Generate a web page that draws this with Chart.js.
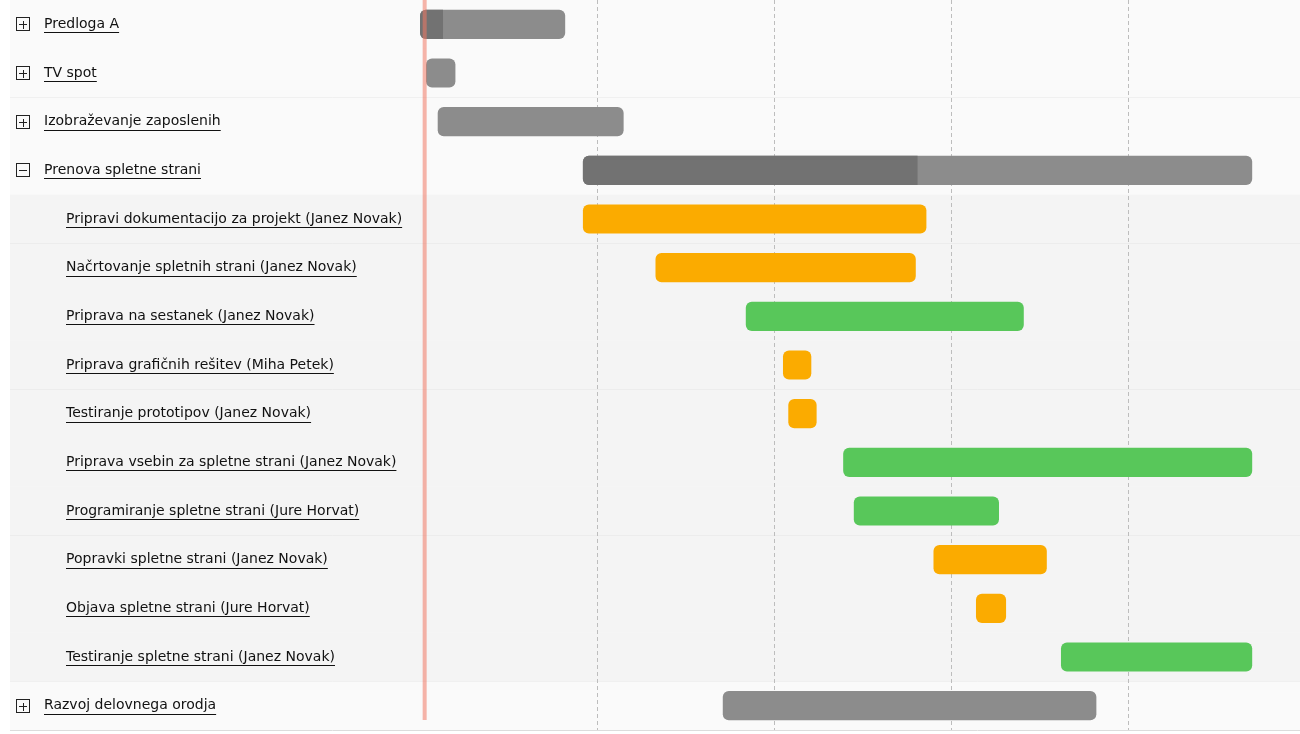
<!DOCTYPE html>
<html>
<head>
<meta charset="utf-8">
<script src="https://cdn.jsdelivr.net/npm/chart.js@4.4.0/dist/chart.umd.min.js"></script>
<style>
  html, body { margin: 0; padding: 0; background: #fff; }
  #wrap { width: 1300px; height: 734px; }
</style>
</head>
<body>
<div id="wrap"><canvas id="gantt"></canvas></div>
<script>
// Gantt podatki
const tasks = [
  'Predloga A', 'TV spot', 'Izobraževanje zaposlenih', 'Prenova spletne strani',
  'Pripravi dokumentacijo za projekt (Janez Novak)', 'Načrtovanje spletnih strani (Janez Novak)',
  'Priprava na sestanek (Janez Novak)', 'Priprava grafičnih rešitev (Miha Petek)',
  'Testiranje prototipov (Janez Novak)', 'Priprava vsebin za spletne strani (Janez Novak)',
  'Programiranje spletne strani (Jure Horvat)', 'Popravki spletne strani (Janez Novak)',
  'Objava spletne strani (Jure Horvat)', 'Testiranje spletne strani (Janez Novak)',
  'Razvoj delovnega orodja'
];
const level = [0, 0, 0, 0, 1, 1, 1, 1, 1, 1, 1, 1, 1, 1, 0];
const expanded = [false, false, false, true, null, null, null, null, null, null, null, null, null, null, false];
const startDay = [0, 0.34, 1.0, 9.2, 9.2, 13.3, 18.4, 20.5, 20.8, 23.9, 24.5, 29.0, 31.4, 36.2, 17.1];
const endDay   = [8.2, 2.0, 11.5, 47.0, 28.6, 28.0, 34.1, 22.1, 22.4, 47.0, 32.7, 35.4, 33.1, 47.0, 38.2];
const progressEnd = [1.3, null, null, 28.1, null, null, null, null, null, null, null, null, null, null, null];
const status = ['group', 'group', 'group', 'group', 'late', 'late', 'ok', 'late', 'late', 'ok', 'ok', 'late', 'late', 'ok', 'group'];
const gridDays = [10, 20, 30, 40];
const today = 0.15;

const colorMap = { group: '#8c8c8c', late: '#fbab00', ok: '#58c75a' };

const labelsPlugin = {
  id: 'ganttLabels',
  beforeDatasetsDraw(chart) {
    const { ctx, scales: { y, x }, chartArea } = chart;
    const rowH = y.height / tasks.length;
    ctx.save();
    tasks.forEach((t, i) => {
      const top = y.top + i * rowH;
      ctx.fillStyle = level[i] ? '#f4f4f4' : '#fafafa';
      ctx.fillRect(10, top, 1290, rowH);
      ctx.strokeStyle = '#dcdcdc'; ctx.lineWidth = 1;
      ctx.beginPath(); ctx.moveTo(10, Math.round(top + rowH) + 0.5); ctx.lineTo(1300, Math.round(top + rowH) + 0.5); ctx.stroke();
    });
    ctx.strokeStyle = '#bdbdbd'; ctx.setLineDash([4, 3]);
    gridDays.forEach(v => {
      const px = Math.round(x.getPixelForValue(v)) + 0.5;
      ctx.beginPath(); ctx.moveTo(px, chartArea.top); ctx.lineTo(px, chartArea.bottom); ctx.stroke();
    });
    ctx.setLineDash([]);
    ctx.font = '14px "DejaVu Sans", Verdana, sans-serif';
    ctx.textBaseline = 'middle';
    tasks.forEach((t, i) => {
      const cy = y.top + (i + 0.5) * rowH;
      const tx = level[i] ? 66 : 44;
      ctx.fillStyle = '#111';
      ctx.fillText(t, tx, cy);
      const w = ctx.measureText(t).width;
      ctx.fillRect(tx, Math.round(cy + 8), w, 1);
      if (expanded[i] !== null) {
        const c = Math.round(cy);
        ctx.strokeStyle = '#222'; ctx.lineWidth = 1;
        ctx.strokeRect(16.5, c - 6.5, 13, 13);
        ctx.beginPath();
        ctx.moveTo(19, c + 0.5); ctx.lineTo(27, c + 0.5);
        if (!expanded[i]) { ctx.moveTo(23.5, c - 3); ctx.lineTo(23.5, c + 5); }
        ctx.stroke();
      }
    });
    ctx.restore();
  },
  afterDatasetsDraw(chart) {
    const { ctx, scales: { x }, chartArea } = chart;
    ctx.save();
    ctx.fillStyle = 'rgba(240,120,100,0.55)';
    ctx.fillRect(x.getPixelForValue(today), chartArea.top, 4, chartArea.bottom - chartArea.top - 10);
    ctx.restore();
  }
};

new Chart(document.getElementById('gantt'), {
  type: 'bar',
  data: {
    labels: tasks,
    datasets: [
      {
        data: progressEnd.map((e, i) => e === null ? null : [startDay[i], e]),
        backgroundColor: '#727272',
        borderRadius: { topLeft: 6, bottomLeft: 6, topRight: 0, bottomRight: 0 },
        borderSkipped: false,
        grouped: false, order: 0,
        barPercentage: 0.6, categoryPercentage: 1
      },
      {
        data: startDay.map((s, i) => [s, endDay[i]]),
        backgroundColor: status.map(s => colorMap[s]),
        borderRadius: 6, borderSkipped: false,
        grouped: false, order: 1,
        barPercentage: 0.6, categoryPercentage: 1
      }
    ]
  },
  options: {
    indexAxis: 'y',
    responsive: true, maintainAspectRatio: false,
    animation: false,
    layout: { padding: { left: 420, top: 0, right: 0, bottom: 4 } },
    scales: {
      x: { min: 0, max: 49.7, display: false },
      y: { display: false }
    },
    plugins: { legend: { display: false }, tooltip: { enabled: false } }
  },
  plugins: [labelsPlugin]
});
</script>
</body>
</html>
